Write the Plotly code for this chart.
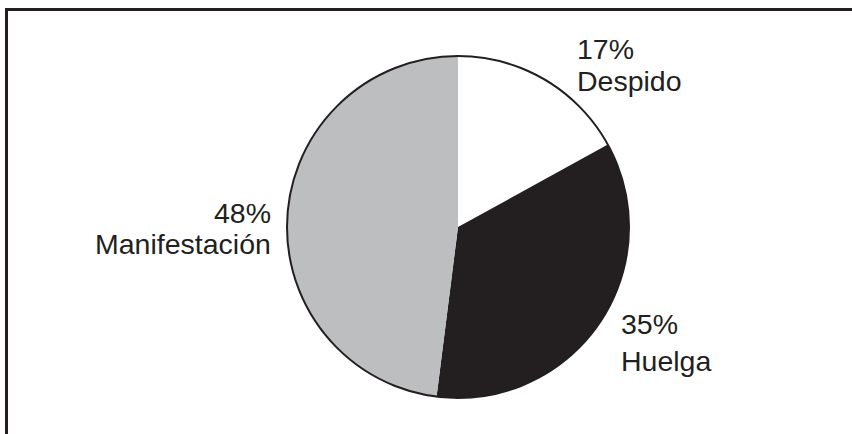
import plotly.graph_objects as go

labels = ["Despido", "Huelga", "Manifestación"]
values = [17, 35, 48]
colors = ["#ffffff", "#231f20", "#bcbec0"]

W, H = 852, 434
INK = "#231f20"
FONT = "Liberation Sans, Arial, sans-serif"

# pie box in pixels (center 458,227; radius 171)
px0, px1, py0, py1 = 287, 629, 56, 398
dom_x = [px0 / W, px1 / W]
dom_y = [1 - py1 / H, 1 - py0 / H]

fig = go.Figure()
fig.add_trace(go.Pie(
    labels=labels, values=values, sort=False, direction="clockwise", rotation=0,
    marker=dict(colors=colors, line=dict(width=0)),
    textinfo="none", hoverinfo="label+percent", showlegend=False,
    domain=dict(x=dom_x, y=dom_y),
))
# outer outline only
fig.add_trace(go.Pie(
    values=[1], labels=["outline"], sort=False,
    marker=dict(colors=["rgba(0,0,0,0)"], line=dict(color=INK, width=2)),
    textinfo="none", hoverinfo="skip", showlegend=False,
    domain=dict(x=dom_x, y=dom_y),
))

# label layout: (x pixel, anchor, y pct middle, y name middle)
label_pos = [
    (575, "left", 48.5, 81),
    (619, "left", 323.5, 360.5),
    (273, "right", 212.5, 244),
]
annotations = []
for lab, val, (x, anc, ypct, yname) in zip(labels, values, label_pos):
    for txt, yy in ((f"{val}%", ypct), (lab, yname)):
        annotations.append(dict(
            text=txt, xref="paper", yref="paper", x=x / W, y=1 - yy / H,
            xanchor=anc, yanchor="middle", showarrow=False,
            font=dict(family=FONT, size=28.5, color=INK),
        ))

fig.update_layout(
    width=W, height=H, margin=dict(l=0, r=0, t=0, b=0),
    paper_bgcolor="white", plot_bgcolor="white",
    annotations=annotations,
    shapes=[dict(
        type="path", xref="paper", yref="paper",
        path=f"M {6.5/W},0 L {6.5/W},{1-9.5/H} L 1,{1-9.5/H}",
        line=dict(color=INK, width=3),
    )],
)
fig.write_html(
    "out.html",
    config={"displayModeBar": False},
    post_script="document.body.style.margin='0';document.body.style.overflow='hidden';",
)
